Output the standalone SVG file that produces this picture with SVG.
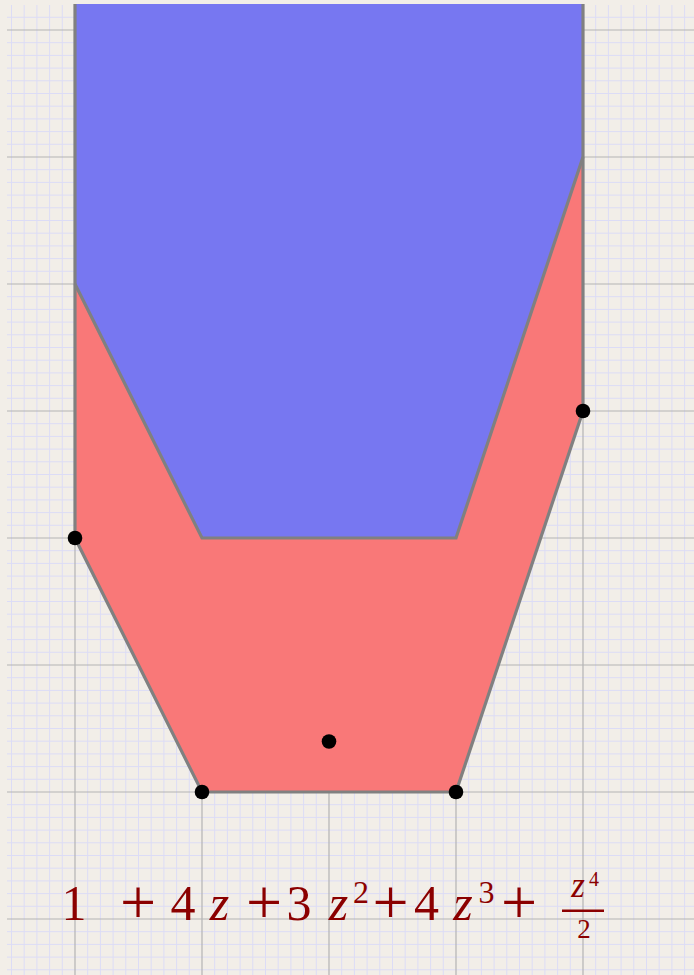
<svg xmlns="http://www.w3.org/2000/svg" width="694" height="975" viewBox="0 0 694 975">
<style>
.minor{stroke:#dcdcf6;stroke-width:1;fill:none}
.major{stroke:#b4b4b4;stroke-width:1.2;fill:none}
.edge{stroke:#808080;stroke-width:3.2;fill:none;stroke-linejoin:miter}
.dot{fill:#000}
.m{font-family:"Liberation Serif","Times New Roman",serif;fill:#8b0000;text-anchor:middle}
.i{font-style:italic}
.p{font-family:"Liberation Serif","Times New Roman",serif;fill:#8b0000;text-anchor:middle;font-size:64px}
</style>
<rect width="694" height="975" fill="#f2eee8"/>
<g id="grid">
<path class="minor" d="M11.5 5V975M24.2 5V975M36.9 5V975M49.6 5V975M62.3 5V975M87.7 5V975M100.4 5V975M113.1 5V975M125.8 5V975M138.5 5V975M151.2 5V975M163.9 5V975M176.6 5V975M189.3 5V975M214.7 5V975M227.4 5V975M240.1 5V975M252.8 5V975M265.5 5V975M278.2 5V975M290.9 5V975M303.6 5V975M316.3 5V975M341.7 5V975M354.4 5V975M367.1 5V975M379.8 5V975M392.5 5V975M405.2 5V975M417.9 5V975M430.6 5V975M443.3 5V975M468.7 5V975M481.4 5V975M494.1 5V975M506.8 5V975M519.5 5V975M532.2 5V975M544.9 5V975M557.6 5V975M570.3 5V975M595.7 5V975M608.4 5V975M621.1 5V975M633.8 5V975M646.5 5V975M659.2 5V975M671.9 5V975M684.6 5V975
M7 17.3H694M7 42.7H694M7 55.4H694M7 68.1H694M7 80.8H694M7 93.5H694M7 106.2H694M7 118.9H694M7 131.6H694M7 144.3H694M7 169.7H694M7 182.4H694M7 195.1H694M7 207.8H694M7 220.5H694M7 233.2H694M7 245.9H694M7 258.6H694M7 271.3H694M7 296.7H694M7 309.4H694M7 322.1H694M7 334.8H694M7 347.5H694M7 360.2H694M7 372.9H694M7 385.6H694M7 398.3H694M7 423.7H694M7 436.4H694M7 449.1H694M7 461.8H694M7 474.5H694M7 487.2H694M7 499.9H694M7 512.6H694M7 525.3H694M7 550.7H694M7 563.4H694M7 576.1H694M7 588.8H694M7 601.5H694M7 614.2H694M7 626.9H694M7 639.6H694M7 652.3H694M7 677.7H694M7 690.4H694M7 703.1H694M7 715.8H694M7 728.5H694M7 741.2H694M7 753.9H694M7 766.6H694M7 779.3H694M7 804.7H694M7 817.4H694M7 830.1H694M7 842.8H694M7 855.5H694M7 868.2H694M7 880.9H694M7 893.6H694M7 906.3H694M7 931.7H694M7 944.4H694M7 957.1H694M7 969.8H694"/>
<path class="major" d="M75 5V975M202 5V975M329 5V975M456 5V975M583 5V975M7 30H694M7 157H694M7 284H694M7 411H694M7 538H694M7 665H694M7 792H694M7 919H694"/>
</g>
<g id="region-blue">
<path d="M75 4H583V157L456 538H202L75 284Z" fill="#7777f1"/>
</g>
<g id="region-red">
<path d="M75 284L202 538H456L583 157V411L456 792H202L75 538Z" fill="#f97878"/>
</g>
<g id="edges">
<path class="edge" d="M75 4V538L202 792H456L583 411V4"/>
<path class="edge" d="M75 284L202 538H456L583 157"/>
</g>
<g id="points">
<circle class="dot" cx="75" cy="538" r="7.3"/>
<circle class="dot" cx="583" cy="411" r="7.3"/>
<circle class="dot" cx="202" cy="792" r="7.3"/>
<circle class="dot" cx="456" cy="792" r="7.3"/>
<circle class="dot" cx="329" cy="741.5" r="7.3"/>
</g>
<g id="formula">
<text class="m" x="74" y="920" font-size="50">1</text>
<text class="p" x="138" y="924">+</text>
<text class="m" x="183" y="920" font-size="50">4</text>
<text class="m i" x="219.5" y="920" font-size="50">z</text>
<text class="p" x="264" y="924">+</text>
<text class="m" x="299" y="920" font-size="50">3</text>
<text class="m i" x="338.5" y="920" font-size="50">z</text>
<text class="m" x="361" y="903" font-size="32">2</text>
<text class="p" x="390.5" y="924">+</text>
<text class="m" x="426.5" y="920" font-size="50">4</text>
<text class="m i" x="463" y="920" font-size="50">z</text>
<text class="m" x="486.5" y="903" font-size="32">3</text>
<text class="p" x="519" y="924">+</text>
<text class="m i" x="578" y="897" font-size="35">z</text>
<text class="m" x="594" y="886" font-size="20">4</text>
<line x1="562" y1="910.7" x2="604" y2="910.7" stroke="#8b0000" stroke-width="2.6"/>
<text class="m" x="584" y="938" font-size="27">2</text>
</g>
</svg>
